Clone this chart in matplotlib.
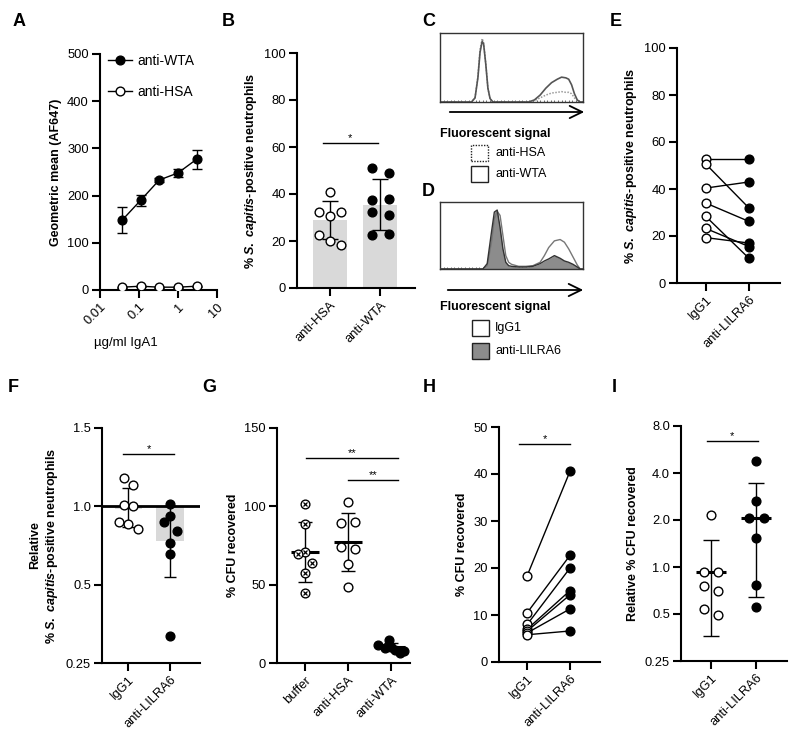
import numpy as np
import matplotlib
matplotlib.use('Agg')
import matplotlib.pyplot as plt
from matplotlib.patches import Rectangle, FancyArrowPatch
from matplotlib.ticker import NullLocator

plt.rcParams['font.family'] = ['Liberation Sans', 'DejaVu Sans']
plt.rcParams['mathtext.fontset'] = 'custom'
plt.rcParams['mathtext.it'] = 'Liberation Sans:italic:bold'
plt.rcParams['mathtext.rm'] = 'Liberation Sans:bold'
plt.rcParams['mathtext.bf'] = 'Liberation Sans:bold'
plt.rcParams['axes.linewidth'] = 1.5

W, H = 800, 744

# ---- data ----
# A: binding vs IgA1 concentration
a_conc = [0.037, 0.11, 0.33, 1, 3]
a_wta = [148, 190, 233, 248, 277]
a_wta_sd = [28, 12, 4, 9, 20]
a_hsa = [6, 8, 6, 6, 8]
a_hsa_sd = [1, 1, 1, 1, 1]

# B: % positive neutrophils
b_groups = ['anti-HSA', 'anti-WTA']
b_mean = [29, 35.5]
b_sd = [8, 11]
b_hsa = [41, 32.3, 30.5, 32.3, 22.4, 19.9, 18.4]
b_wta = [51, 37.5, 32.5, 22.5, 49, 38, 31, 23]

# C / D: flow histograms (relative position, relative count)
c_x = [0.00, 0.22, 0.245, 0.265, 0.28, 0.295, 0.305, 0.32, 0.335, 0.35, 0.37, 0.62, 0.66,
       0.70, 0.74, 0.78, 0.82, 0.85, 0.88, 0.90, 0.92, 0.94, 0.96, 0.98, 1.00]
c_wta = [0.0, 0.0, 0.06, 0.35, 0.72, 0.88, 0.84, 0.55, 0.20, 0.05, 0.0, 0.0, 0.03,
         0.10, 0.20, 0.28, 0.33, 0.36, 0.35, 0.33, 0.25, 0.12, 0.03, 0.0, 0.0]
c_hsa = [0.0, 0.0, 0.06, 0.37, 0.76, 0.92, 0.86, 0.56, 0.20, 0.05, 0.0, 0.0, 0.02,
         0.06, 0.10, 0.13, 0.14, 0.15, 0.14, 0.14, 0.12, 0.06, 0.02, 0.0, 0.0]
d_x = [0.00, 0.30, 0.33, 0.36, 0.38, 0.40, 0.42, 0.44, 0.46, 0.48, 0.50, 0.55, 0.60,
       0.65, 0.70, 0.73, 0.76, 0.80, 0.84, 0.87, 0.90, 0.93, 0.96, 0.98, 1.00]
d_igg = [0, 0, 0.05, 0.40, 0.75, 0.86, 0.80, 0.50, 0.20, 0.10, 0.07, 0.04, 0.04,
         0.05, 0.10, 0.20, 0.32, 0.42, 0.44, 0.40, 0.30, 0.18, 0.06, 0.0, 0.0]
d_lil = [0, 0, 0.08, 0.55, 0.85, 0.88, 0.62, 0.30, 0.10, 0.05, 0.04, 0.03, 0.03,
         0.04, 0.08, 0.12, 0.15, 0.20, 0.16, 0.12, 0.10, 0.07, 0.03, 0.0, 0.0]

# E: paired donors
pair_groups = ['IgG1', 'anti-LILRA6']
e_igg = [52.6, 50.6, 40.4, 34, 28.3, 23.2, 19.3]
e_lil = [52.6, 31.9, 43, 26.2, 10.5, 15.5, 17]

# F: relative % positive neutrophils
f_ticks = [0.25, 0.5, 1.0, 1.5]
f_igg = [1.18, 1.135, 1.006, 1.0, 0.90, 0.889, 0.857]
f_lil = [1.015, 0.936, 0.90, 0.84, 0.765, 0.697, 0.336]
f_mean = [0.98, 0.78]
f_lo = [0.865, 0.55]
f_hi = [1.12, 1.0]

# G: % CFU recovered
g_groups = ['buffer', 'anti-HSA', 'anti-WTA']
g_buffer = [101.5, 88.8, 71.1, 69.4, 64.1, 57.2, 44.5]
g_hsa = [102.7, 89.5, 89.9, 74.1, 73.0, 63.1, 48.3]
g_wta = [11.5, 15, 9.5, 8.5, 7.5, 10, 6.5]
g_mean = [70.9, 77.2, 10]
g_sd = [19, 18.5, 2.5]

# H: paired % CFU recovered
h_igg = [18.4, 10.5, 8.0, 7.0, 6.6, 6.2, 5.8]
h_lil = [40.6, 22.7, 20.0, 15.2, 14.3, 11.3, 6.6]

# I: relative % CFU recovered
i_ticks = [0.25, 0.5, 1.0, 2.0, 4.0, 8.0]
i_igg = [2.15, 0.93, 0.93, 0.76, 0.70, 0.54, 0.49]
i_lil = [4.77, 2.63, 2.05, 2.05, 1.53, 0.77, 0.557]
i_mean = [0.93, 2.05]
i_lo = [0.36, 0.646]
i_hi = [1.50, 3.47]


def box(x0, y0, x1, y1):
    return [x0 / W, 1 - y1 / H, (x1 - x0) / W, (y1 - y0) / H]


def style(ax):
    ax.spines['top'].set_visible(False)
    ax.spines['right'].set_visible(False)
    ax.tick_params(width=1.5, length=6, labelsize=9.3, pad=2)
    ax.yaxis.set_minor_locator(NullLocator())
    ax.xaxis.set_minor_locator(NullLocator())


def cat_labels(ax, labels):
    ax.set_xticks(range(len(labels)))
    ax.set_xticklabels(labels, rotation=45, ha='right', rotation_mode='anchor')


def sig(ax, x0, x1, y, txt):
    ax.plot([x0, x1], [y, y], color='k', lw=1)
    ax.text((x0 + x1) / 2, y, txt, ha='center', va='bottom', fontsize=8)


ylab_scap = r'% $S.\ capitis$-positive neutrophils'
lab_kw = dict(fontsize=9, fontweight='bold')
open_kw = dict(marker='o', ms=6.3, mfc='white', mec='k', mew=1, ls='none', zorder=4)
fill_kw = dict(marker='o', ms=6.3, mfc='k', mec='k', mew=1, ls='none', zorder=4)

fig = plt.figure(figsize=(8, 7.44), dpi=100)

# ---------------- A ----------------
ax = fig.add_axes(box(100, 54, 217, 290))
style(ax)
ax.errorbar(a_conc, a_wta, yerr=a_wta_sd, color='k', lw=1, capsize=3.5, elinewidth=1,
            marker='o', ms=6.3, mfc='k', mec='k', label='anti-WTA', zorder=3)
ax.errorbar(a_conc, a_hsa, yerr=a_hsa_sd, color='k', lw=1, capsize=3.5, elinewidth=1,
            marker='o', ms=6.3, mfc='white', mec='k', label='anti-HSA', zorder=3)
ax.set_xscale('log')
ax.set_xlim(0.01, 10)
ax.set_ylim(0, 500)
ax.xaxis.set_minor_locator(NullLocator())
ax.set_xticks([0.01, 0.1, 1, 10])
ax.set_xticklabels(['0.01', '0.1', '1', '10'], rotation=45, ha='right', rotation_mode='anchor')
ax.set_yticks(range(0, 501, 100))
ax.set_ylabel('Geometric mean (AF647)', **lab_kw)
ax.set_xlabel('µg/ml IgA1', fontsize=9.5)
ax.xaxis.set_label_coords(0.22, -0.2)
h, l = ax.get_legend_handles_labels()
ax.legend([hh[0] for hh in h], l, loc='upper left', bbox_to_anchor=(0.07, 1.0), frameon=False,
          fontsize=10, handlelength=1.7, handletextpad=0.4, labelspacing=1.2, borderpad=0,
          borderaxespad=0)

# ---------------- B ----------------
ax = fig.add_axes(box(297, 53, 415, 288))
style(ax)
ax.bar([0, 1], b_mean, width=0.68, color='#d9d9d9', zorder=1)
ax.errorbar([0, 1], b_mean, yerr=b_sd, fmt='none', ecolor='k', elinewidth=1, capsize=6, zorder=2)
b_hsa_dx = [0, -0.23, 0, 0.22, -0.23, 0, 0.22]
b_wta_dx = [-0.17] * 4 + [0.17] * 4
ax.plot(np.array(b_hsa_dx), b_hsa, **open_kw)
ax.plot(1 + np.array(b_wta_dx), b_wta, **fill_kw)
sig(ax, -0.15, 0.96, 61.6, '*')
ax.set_xlim(-0.66, 1.7)
ax.set_ylim(0, 100)
ax.set_yticks(range(0, 101, 20))
cat_labels(ax, b_groups)
ax.set_ylabel(ylab_scap, **lab_kw)


# ---------------- C / D histograms ----------------
def hist_axes(rect):
    ax = fig.add_axes(rect)
    for s in ax.spines.values():
        s.set_linewidth(1)
        s.set_color('#333333')
    ax.set_xlim(0, 1)
    ax.set_ylim(0, 1)
    ax.set_yticks([])
    ax.set_xticks(np.linspace(0, 1, 41))
    ax.set_xticklabels([])
    ax.tick_params(axis='x', direction='in', length=1.5, width=0.6, color='#555555')
    return ax


def arrow(x0, x1, y):
    fig.add_artist(FancyArrowPatch((x0 / W, 1 - y / H), (x1 / W, 1 - y / H),
                                   transform=fig.transFigure, mutation_scale=20,
                                   arrowstyle='->,head_length=0.45,head_width=0.22', lw=1.3,
                                   color='k'))


def leg_box(x, y, fc, ls='-'):
    fig.add_artist(Rectangle((x / W, 1 - (y + 16) / H), 17 / W, 16 / H, transform=fig.transFigure,
                             fc=fc, ec='#222222', lw=1, ls=ls))


ax = hist_axes(box(440, 33, 583, 102))
ax.plot(c_x, c_hsa, color='#9a9a9a', lw=1.1, ls=(0, (1, 1)))
ax.plot(c_x, c_wta, color='#555555', lw=1.2)
arrow(447, 587, 112)
fig.text(440 / W, 1 - 134 / H, 'Fluorescent signal', fontsize=9, fontweight='bold', va='center')
leg_box(471, 145, 'white', ls=(0, (1, 1)))
fig.text(496 / W, 1 - 153 / H, 'anti-HSA', fontsize=9, va='center')
leg_box(471, 166, 'white')
fig.text(496 / W, 1 - 174 / H, 'anti-WTA', fontsize=9, va='center')

ax = hist_axes(box(440, 202, 583, 269))
ax.fill_between(d_x, d_lil, color='#8c8c8c', lw=0, zorder=2)
ax.plot(d_x, d_igg, color='#777777', lw=1, zorder=3)
ax.plot(d_x, d_lil, color='#333333', lw=1, zorder=4)
arrow(445, 586, 290)
fig.text(440 / W, 1 - 307 / H, 'Fluorescent signal', fontsize=9, fontweight='bold', va='center')
leg_box(472, 320, 'white')
fig.text(495 / W, 1 - 328 / H, 'IgG1', fontsize=9, va='center')
leg_box(472, 343, '#8c8c8c')
fig.text(495 / W, 1 - 351 / H, 'anti-LILRA6', fontsize=9, va='center')

# ---------------- E ----------------
ax = fig.add_axes(box(677, 48, 780, 283))
style(ax)
for a, b in zip(e_igg, e_lil):
    ax.plot([0, 1], [a, b], color='k', lw=1, zorder=2)
ax.plot([0] * len(e_igg), e_igg, **open_kw)
ax.plot([1] * len(e_lil), e_lil, **fill_kw)
ax.set_xlim(-0.67, 1.72)
ax.set_ylim(0, 100)
ax.set_yticks(range(0, 101, 20))
cat_labels(ax, pair_groups)
ax.set_ylabel(ylab_scap, **lab_kw)

# ---------------- F ----------------
ax = fig.add_axes(box(102, 428, 200, 663))
style(ax)
f_pos = [0, 1, 2, 3]
ax.set_yscale('function', functions=(lambda v: np.interp(v, f_ticks, f_pos),
                                     lambda u: np.interp(u, f_pos, f_ticks)))
ax.bar([0, 1], np.array(f_mean) - 1, bottom=1, width=0.66, color='#d9d9d9', zorder=1)
ax.axhline(1.0, color='k', lw=2, zorder=2)
f_mean_a = np.array(f_mean)
ax.errorbar([0, 1], f_mean, yerr=[f_mean_a - np.array(f_lo), np.array(f_hi) - f_mean_a],
            fmt='none', ecolor='k', elinewidth=1, capsize=4.5, zorder=3)
f_igg_dx = [-0.10, 0.12, -0.10, 0.12, -0.22, 0, 0.23]
f_lil_dx = [0, 0, -0.15, 0.18, 0, 0, 0]
ax.plot(np.array(f_igg_dx), f_igg, **open_kw)
ax.plot(1 + np.array(f_lil_dx), f_lil, **fill_kw)
sig(ax, -0.13, 1.1, 1.336, '*')
ax.set_xlim(-0.63, 1.72)
ax.set_ylim(0.25, 1.5)
ax.yaxis.set_minor_locator(NullLocator())
ax.set_yticks(f_ticks)
ax.set_yticklabels(['0.25', '0.5', '1.0', '1.5'])
cat_labels(ax, pair_groups)
ax.set_ylabel('Relative\n' + ylab_scap, linespacing=1.25, **lab_kw)

# ---------------- G ----------------
ax = fig.add_axes(box(277, 428, 410, 663))
style(ax)
g_buf_dx = [0, 0, 0, -0.16, 0.17, 0, 0]
g_hsa_dx = [0, -0.17, 0.17, -0.17, 0.17, 0, 0]
g_wta_dx = [-0.3, -0.05, -0.15, 0.1, 0.3, 0.0, 0.2]
ax.errorbar([0, 1, 2], g_mean, yerr=g_sd, fmt='none', ecolor='k', elinewidth=1, capsize=5, zorder=2)
ax.hlines(g_mean, np.arange(3) - 0.33, np.arange(3) + 0.33, color='k', lw=2.2, zorder=3)
ax.plot(np.array(g_buf_dx), g_buffer, **open_kw)
ax.plot(np.array(g_buf_dx), g_buffer, marker='x', ms=3.4, mec='k', mew=0.9, ls='none', zorder=5)
ax.plot(1 + np.array(g_hsa_dx), g_hsa, **open_kw)
ax.plot(2 + np.array(g_wta_dx), g_wta, **fill_kw)
sig(ax, 0.03, 2.17, 131, '**')
sig(ax, 1.0, 2.17, 117, '**')
ax.set_xlim(-0.65, 2.44)
ax.set_ylim(0, 150)
ax.set_yticks([0, 50, 100, 150])
cat_labels(ax, g_groups)
ax.set_ylabel('% CFU recovered', **lab_kw)

# ---------------- H ----------------
ax = fig.add_axes(box(499, 427, 600, 662))
style(ax)
for a, b in zip(h_igg, h_lil):
    ax.plot([0, 1], [a, b], color='k', lw=1, zorder=2)
ax.plot([0] * len(h_igg), h_igg, **open_kw)
ax.plot([1] * len(h_lil), h_lil, **fill_kw)
sig(ax, -0.19, 1.01, 46.3, '*')
ax.set_xlim(-0.66, 1.70)
ax.set_ylim(0, 50)
ax.set_yticks(range(0, 51, 10))
cat_labels(ax, pair_groups)
ax.set_ylabel('% CFU recovered', **lab_kw)

# ---------------- I ----------------
ax = fig.add_axes(box(681, 426, 787, 661))
style(ax)
ax.set_yscale('log', base=2)
i_mean_a = np.array(i_mean)
ax.errorbar([0, 1], i_mean, yerr=[i_mean_a - np.array(i_lo), np.array(i_hi) - i_mean_a],
            fmt='none', ecolor='k', elinewidth=1, capsize=5.5, zorder=2)
ax.hlines(i_mean, np.arange(2) - 0.33, np.arange(2) + 0.33, color='k', lw=2.2, zorder=3)
i_igg_dx = [0, -0.16, 0.16, -0.16, 0.16, -0.16, 0.16]
i_lil_dx = [0, 0, -0.16, 0.16, 0, 0, 0]
ax.plot(np.array(i_igg_dx), i_igg, **open_kw)
ax.plot(1 + np.array(i_lil_dx), i_lil, **fill_kw)
sig(ax, -0.1, 1.03, 6.4, '*')
ax.set_xlim(-0.67, 1.68)
ax.set_ylim(0.25, 8)
ax.yaxis.set_minor_locator(NullLocator())
ax.set_yticks(i_ticks)
ax.set_yticklabels(['0.25', '0.5', '1.0', '2.0', '4.0', '8.0'])
cat_labels(ax, pair_groups)
ax.set_ylabel('Relative % CFU recovered', **lab_kw)

# panel letters
for letter, (x, y) in {'A': (13, 21), 'B': (222, 21), 'C': (422, 21), 'D': (422, 192),
                       'E': (610, 21), 'F': (8, 388), 'G': (202, 388), 'H': (423, 388),
                       'I': (612, 388)}.items():
    fig.text(x / W, 1 - y / H, letter, fontsize=13, fontweight='bold', va='center')

fig.savefig('out.png', dpi=100)
